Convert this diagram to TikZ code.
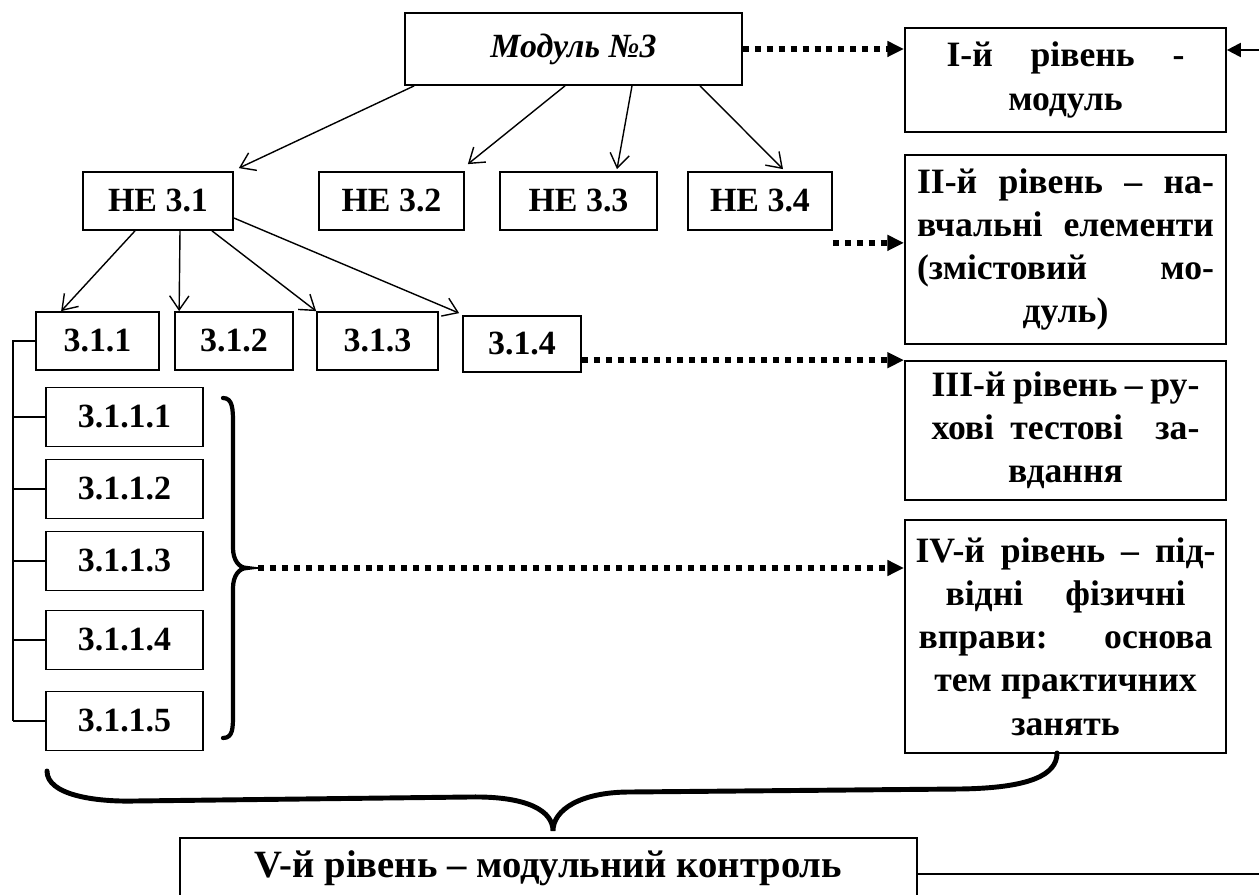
\documentclass[tikz,border=0pt]{standalone}
\usepackage{fontspec}
\setmainfont{Liberation Serif}
\usetikzlibrary{arrows.meta,calc}
\newcommand{\jline}[2]{\makebox[#1][s]{#2}}

\begin{document}
\begin{tikzpicture}[x=0.02cm, y=-0.02cm,
>={Straight Barb[length=8pt,width=11pt]},
font=\bfseries\fontsize{19.3}{24.8}\selectfont]
    \tikzstyle{box}=[draw, line width=1pt, inner sep=0pt, align=center]
    \tikzstyle{lvl}=[box, minimum width=6.42cm, font=\bfseries\fontsize{20.3}{24.6}\selectfont]
    \tikzstyle{ne}=[box, minimum height=1.16cm]
    \tikzstyle{sub}=[box, minimum width=3.14cm, minimum height=1.18cm]
    \tikzstyle{tree}=[->, line width=0.8pt]
    \tikzstyle{dots}=[line width=3.4pt, dash pattern=on 3.4pt off 3.4pt,
        -{Triangle[length=9.5pt,width=8.5pt]}]
    \tikzstyle{curly}=[line width=2.4pt, line cap=round]

\useasboundingbox (0,0) rectangle (1259,895);
\clip (0,0) rectangle (1259,895);

\node[box, minimum width=6.74cm, minimum height=1.44cm] (mod) at (573.5,49) {\itshape Модуль №3};

\node[lvl, minimum height=2.08cm] (l1) at (1065.5,80) {\jline{4.76cm}{I-й рівень -}\\модуль};
\node[lvl, minimum height=3.78cm] (l2) at (1065.5,249.5) {\jline{5.94cm}{II-й рівень – на-}\\\jline{5.94cm}{вчальні елементи}\\\jline{5.94cm}{(змістовий мо-}\\дуль)};
\node[lvl, minimum height=2.78cm] (l3) at (1065.5,430.5) {\jline{5.36cm}{III-й рівень – ру-}\\\jline{5.36cm}{хові тестові~ за-}\\вдання};
\node[lvl, minimum height=4.66cm] (l4) at (1065.5,636.5) {\jline{6.0cm}{IV-й рівень – під-}\\\jline{4.8cm}{відні фізичні}\\\jline{5.88cm}{вправи: основа}\\тем практичних\\занять};

\node[ne, minimum width=3.0cm] (ne1) at (158,201) {НЕ 3.1};
\node[ne, minimum width=2.9cm] (ne2) at (391.5,201) {НЕ 3.2};
\node[ne, minimum width=3.14cm] (ne3) at (578.5,201) {НЕ 3.3};
\node[ne, minimum width=2.88cm] (ne4) at (760,201) {НЕ 3.4};

\node[ne, minimum width=2.46cm] (t1) at (97.5,341) {3.1.1};
\node[ne, minimum width=2.36cm] (t2) at (234,341) {3.1.2};
\node[ne, minimum width=2.42cm] (t3) at (377.5,341) {3.1.3};
\node[ne, minimum width=2.36cm, minimum height=1.12cm] (t4) at (522,344) {3.1.4};

\coordinate (rail) at (13,0);
\foreach \n/\y in {1/417,2/489,3/561,4/640,5/721}{
\node[sub] (s\n) at (124.5,\y) {3.1.1.\n};
\draw[line width=0.8pt] (s\n.west -| rail) -- (s\n.west);
};
\draw[line width=0.8pt] (t1.west) -- (t1.west -| rail) -- (s5.west -| rail);

\node[box, minimum width=14.74cm, minimum height=1.22cm, font=\bfseries\fontsize{22}{25}\selectfont] (v) at (548.5,868.5) {V-й рівень – модульний контроль};

% module -> learning elements
\draw[tree] ($(mod.south west)+(10,0)$) -- ($(ne1.north east)+(5,-3)$);
\draw[tree] ($(mod.south)+(-8.5,0)$) -- ($(ne2.north east)+(3,-7)$);
\draw[tree] ($(mod.south)+(58.5,0)$) -- ($(ne3.north)+(38.5,-2)$);
\draw[tree] ($(mod.south)+(126.5,0)$) -- ($(ne4.north)+(23,-2)$);
% HE 3.1 -> 3.1.x
\draw[tree] ($(ne1.south)+(-23,0)$) -- ($(t1.north west)+(26,0)$);
\draw[tree] ($(ne1.south)+(22,0)$) -- ($(t2.north west)+(5,0)$);
\draw[tree] ($(ne1.south)+(54,0)$) -- (t3.north west);
\draw[tree] ($(ne1.east)+(0,17)$) -- ($(t4.north west)+(-3,-2)$);

% levels
\draw[dots] (mod.east) -- (mod.east -| l1.west);
\coordinate (d2) at ($(ne4.south east)+(0,12)$);
\draw[dots] (d2) -- (d2 -| l2.west);
\draw[dots] (t4.east |- l3.north) -- (l3.north west);
\coordinate (tip) at (247,568);
\draw[dots] ($(tip)+(11,0)$) -- (tip -| l4.west);

\coordinate (rin) at (1259,50);
\draw[line width=1.2pt, -{Triangle[length=8pt,width=8pt]}] (rin) -- (rin -| l1.east);
\coordinate (rout) at (1259,874);
\draw[line width=1.2pt] (v.east |- rout) -- (rout);

% braces
\draw[curly] (223,398) .. controls (233,398) and (233,410) .. (233,424) -- (233,548)
    .. controls (233,560) and (239,568) .. (tip)
    .. controls (239,568) and (233,576) .. (233,588) -- (233,714)
    .. controls (233,728) and (233,738) .. (223,738);
\draw[curly, line width=2.8pt] (47,771) .. controls (47,795) and (95,802) .. (135,801)
    -- (470,797) .. controls (530,796) and (553,812) .. (553,831)
    .. controls (553,810) and (580,792) .. (630,792)
    -- (960,789) .. controls (1030,788) and (1057,775) .. (1057,753);
\end{tikzpicture}
\end{document}
